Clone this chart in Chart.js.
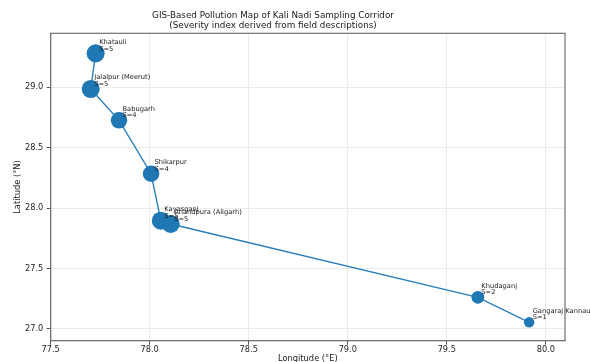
<!DOCTYPE html>
<html>
<head>
<meta charset="utf-8">
<script src="https://cdn.jsdelivr.net/npm/chart.js@4.4.0/dist/chart.umd.min.js"></script>
<style>
html,body{margin:0;padding:0;background:#fff;}
#wrap{width:590px;height:362px;position:relative;}
</style>
</head>
<body>
<div id="wrap"><canvas id="c"></canvas></div>
<script>
const siteNames = ["Khatauli", "Jalalpur (Meerut)", "Babugarh", "Shikarpur", "Kayasganj", "Anandpura (Aligarh)", "Khudaganj", "Gangaraj Kannauj"];
const longitudes = [77.727, 77.702, 77.845, 78.007, 78.056, 78.106, 79.657, 79.916];
const latitudes  = [29.281, 28.986, 28.727, 28.285, 27.896, 27.869, 27.262, 27.055];
const severity   = [5, 5, 4, 4, 5, 5, 2, 1];
const xTicks = [77.5, 78.0, 78.5, 79.0, 79.5, 80.0];
const yTicks = [27.0, 27.5, 28.0, 28.5, 29.0];
const titleLines = ["GIS-Based Pollution Map of Kali Nadi Sampling Corridor", "(Severity index derived from field descriptions)"];
const xLabel = "Longitude (°E)";
const yLabel = "Latitude (°N)";

const FONT = "'DejaVu Sans', sans-serif";
const BLUE = "#1f77b4";
const pts = longitudes.map((x, i) => ({x: x, y: latitudes[i]}));
const radiusFor = s => Math.sqrt(14 + 13.5 * s);

const titlePlugin = {
  id: 'figTitle',
  afterDraw(chart) {
    const ctx = chart.ctx;
    ctx.save();
    ctx.fillStyle = '#1a1a1a';
    ctx.font = "8.8px " + FONT;
    ctx.textAlign = 'center';
    ctx.textBaseline = 'middle';
    ctx.fillText(titleLines[0], 273, 15.7);
    ctx.fillText(titleLines[1], 273, 25.7);
    ctx.restore();
  }
};

const labelPlugin = {
  id: 'pointLabels',
  afterDatasetsDraw(chart) {
    const ctx = chart.ctx;
    const xs = chart.scales.x, ys = chart.scales.y;
    ctx.save();
    ctx.fillStyle = '#1a1a1a';
    ctx.font = "6.7px " + FONT;
    ctx.textAlign = 'left';
    ctx.textBaseline = 'middle';
    siteNames.forEach((name, i) => {
      const px = xs.getPixelForValue(longitudes[i]);
      const py = ys.getPixelForValue(latitudes[i]);
      ctx.fillText(name, px + 3.5, py - 11.4);
      ctx.fillText("S=" + severity[i], px + 3.5, py - 4.6);
    });
    ctx.restore();
  }
};

const framePlugin = {
  id: 'frame',
  afterDraw(chart) {
    const a = chart.chartArea, ctx = chart.ctx;
    ctx.save();
    ctx.strokeStyle = '#707070';
    ctx.lineWidth = 1.2;
    ctx.strokeRect(a.left, a.top, a.right - a.left, a.bottom - a.top);
    ctx.restore();
  }
};

new Chart(document.getElementById('c'), {
  type: 'scatter',
  data: {
    datasets: [
      {
        label: 'sites',
        data: pts,
        backgroundColor: BLUE,
        borderColor: BLUE,
        borderWidth: 0,
        pointRadius: ctx => radiusFor(severity[ctx.dataIndex]),
        pointHoverRadius: ctx => radiusFor(severity[ctx.dataIndex]),
        showLine: false,
        order: 1
      },
      {
        label: 'path',
        data: pts,
        borderColor: '#2a7fbc',
        borderWidth: 1.4,
        pointRadius: 0,
        showLine: true,
        fill: false,
        order: 2
      }
    ]
  },
  options: {
    responsive: true,
    maintainAspectRatio: false,
    animation: false,
    layout: {padding: {top: 33.3, right: 25, left: 0, bottom: 0}},
    plugins: {legend: {display: false}, tooltip: {enabled: false}, title: {display: false}},
    scales: {
      x: {
        type: 'linear',
        min: 77.5,
        max: 80.097,
        afterBuildTicks: s => { s.ticks = xTicks.map(v => ({value: v})); },
        afterFit: s => { s.height = 21.3; },
        ticks: {
          color: '#222',
          font: {family: FONT, size: 8.2},
          padding: 0,
          maxRotation: 0,
          autoSkip: false,
          callback: v => Number(v).toFixed(1)
        },
        grid: {color: '#ebebeb', lineWidth: 1, tickLength: 4, tickColor: '#555'},
        border: {display: true, color: '#707070'},
        title: {display: true, text: xLabel, color: '#1a1a1a', font: {family: FONT, size: 8.3}, padding: {top: 0, bottom: -1.9}}
      },
      y: {
        type: 'linear',
        min: 26.903,
        max: 29.447,
        afterBuildTicks: s => { s.ticks = yTicks.map(v => ({value: v})); },
        afterFit: s => { s.width = 50.7; },
        ticks: {
          color: '#222',
          font: {family: FONT, size: 8.2},
          padding: 3.4,
          autoSkip: false,
          callback: v => Number(v).toFixed(1)
        },
        grid: {color: '#ebebeb', lineWidth: 1, tickLength: 4, tickColor: '#555'},
        border: {display: true, color: '#707070'},
        title: {display: true, text: yLabel, color: '#1a1a1a', font: {family: FONT, size: 8.3}, padding: {top: 13, bottom: 0}}
      }
    }
  },
  plugins: [titlePlugin, labelPlugin, framePlugin]
});
</script>
</body>
</html>
